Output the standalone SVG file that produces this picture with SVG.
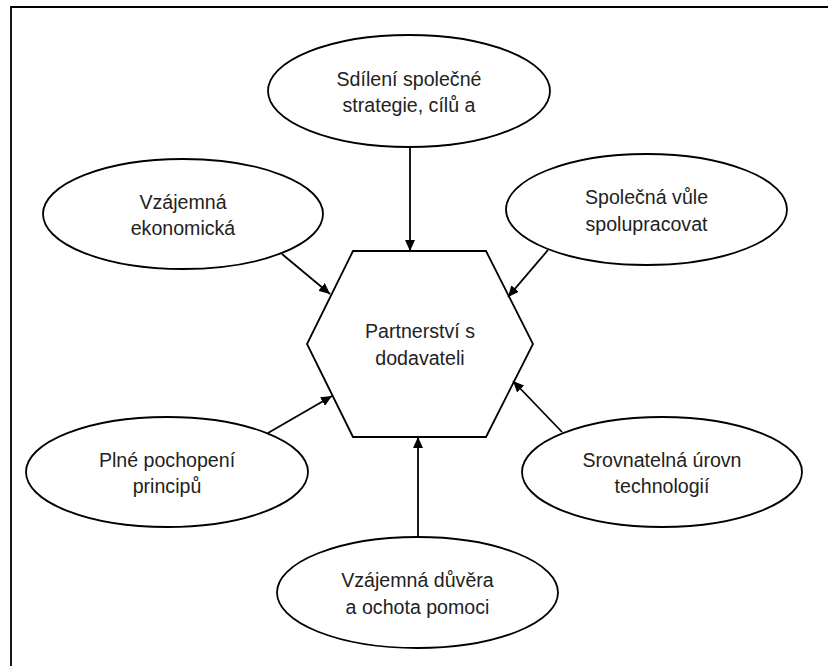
<svg xmlns="http://www.w3.org/2000/svg" width="828" height="666" viewBox="0 0 828 666">
<style>
.node ellipse,.node polygon{fill:#fff;stroke:#000;stroke-width:1.8}
.node text{font-family:"Liberation Sans",Arial,sans-serif;font-size:19.6px;fill:#222;text-anchor:middle}
.conn line{stroke:#000;stroke-width:1.8}
.frame{stroke:#000;stroke-width:1.8;fill:none}
</style>
<defs>
<marker id="ah" markerUnits="userSpaceOnUse" markerWidth="11" markerHeight="10" refX="11" refY="5" orient="auto">
<path d="M0,0 L11,5 L0,10 z" fill="#000"/>
</marker>
</defs>
<rect width="828" height="666" fill="#fff"/>
<path class="frame" d="M11,666 V7 H828"/>
<g id="n-center" class="node">
<polygon points="353,251 486,251 533,344 486,437 353,437 307,344"/>
<text x="420" y="338">Partnerství s</text>
<text x="420" y="365">dodavateli</text>
</g>
<g id="n-top" class="node">
<ellipse cx="409" cy="91" rx="141" ry="56"/>
<text x="409" y="86">Sdílení společné</text>
<text x="409" y="112">strategie, cílů a</text>
</g>
<g id="n-topleft" class="node">
<ellipse cx="183" cy="214" rx="140" ry="55"/>
<text x="183" y="209">Vzájemná</text>
<text x="183" y="235">ekonomická</text>
</g>
<g id="n-topright" class="node">
<ellipse cx="646.5" cy="209.5" rx="140.5" ry="55.5"/>
<text x="646.5" y="204">Společná vůle</text>
<text x="646.5" y="230.5">spolupracovat</text>
</g>
<g id="n-bottomleft" class="node">
<ellipse cx="167" cy="472" rx="141" ry="55"/>
<text x="167" y="466.5">Plné pochopení</text>
<text x="167" y="493">principů</text>
</g>
<g id="n-bottomright" class="node">
<ellipse cx="662" cy="472" rx="140" ry="55"/>
<text x="662" y="466.5">Srovnatelná úrovn</text>
<text x="662" y="493">technologií</text>
</g>
<g id="n-bottom" class="node">
<ellipse cx="417.5" cy="592.5" rx="140.5" ry="55.5"/>
<text x="417.5" y="587">Vzájemná důvěra</text>
<text x="417.5" y="613.5">a ochota pomoci</text>
</g>
<g id="connectors" class="conn">
<line x1="410" y1="147" x2="410" y2="251" marker-end="url(#ah)"/>
<line x1="282" y1="254" x2="330" y2="294" marker-end="url(#ah)"/>
<line x1="548" y1="250" x2="508" y2="297" marker-end="url(#ah)"/>
<line x1="268" y1="433" x2="332" y2="396" marker-end="url(#ah)"/>
<line x1="562" y1="432" x2="513" y2="381" marker-end="url(#ah)"/>
<line x1="418" y1="537" x2="418" y2="437" marker-end="url(#ah)"/>
</g>
</svg>
